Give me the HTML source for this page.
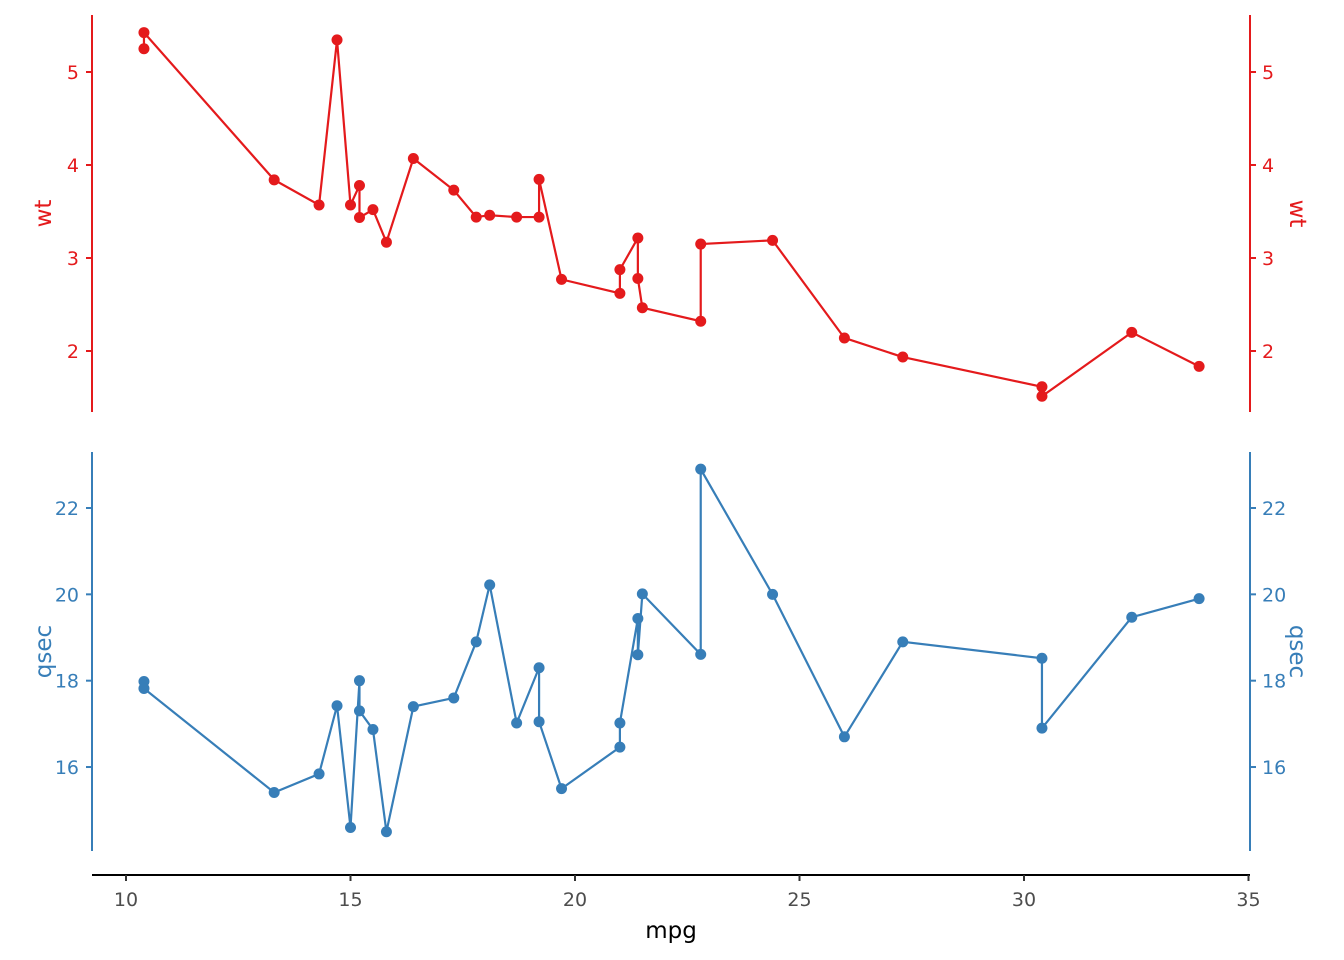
<!DOCTYPE html>
<html><head><meta charset="utf-8"><style>body{margin:0;background:#fff}svg{display:block;font-family:"DejaVu Sans","Liberation Sans",sans-serif}</style></head>
<body>
<svg id="c" width="1344" height="960"></svg>
<script>
const mpg=[21.0,21.0,22.8,21.4,18.7,18.1,14.3,24.4,22.8,19.2,17.8,16.4,17.3,15.2,10.4,10.4,14.7,32.4,30.4,33.9,21.5,15.5,15.2,13.3,19.2,27.3,26.0,30.4,15.8,19.7,15.0,21.4];
const wt=[2.620,2.875,2.320,3.215,3.440,3.460,3.570,3.190,3.150,3.440,3.440,4.070,3.730,3.780,5.250,5.424,5.345,2.200,1.615,1.835,2.465,3.520,3.435,3.840,3.845,1.935,2.140,1.513,3.170,2.770,3.570,2.780];
const qsec=[16.46,17.02,18.61,19.44,17.02,20.22,15.84,20.00,22.90,18.30,18.90,17.40,17.60,18.00,17.98,17.82,17.42,19.47,18.52,19.90,20.01,16.87,17.30,15.41,17.05,18.90,16.70,16.90,14.50,15.50,14.60,18.60];
const xTicks=[10,15,20,25,30,35];
const wtTicks=[2,3,4,5];
const qTicks=[16,18,20,22];
const NS="http://www.w3.org/2000/svg",svg=document.getElementById('c');
function el(t,a,txt){const e=document.createElementNS(NS,t);for(const k in a)e.setAttribute(k,a[k]);if(txt!==undefined)e.textContent=txt;svg.appendChild(e);return e;}
const X=v=>126+(v-10)*44.9;
const Yw=v=>72+(5-v)*93;
const Yq=v=>508+(22-v)*43.17;
const order=mpg.map((v,i)=>i).sort((a,b)=>mpg[a]-mpg[b]||a-b);
function panel(vals,Y,ticks,col,top,bot,title,nm){
  let a=el('line',{x1:92,x2:92,y1:top,y2:bot,stroke:col,'stroke-width':2});
  
  a=el('line',{x1:1250,x2:1250,y1:top,y2:bot,stroke:col,'stroke-width':2});
  
  ticks.forEach(t=>{const y=Y(t);
    el('line',{x1:86,x2:92,y1:y,y2:y,stroke:col,'stroke-width':2});
    el('line',{x1:1250,x2:1256,y1:y,y2:y,stroke:col,'stroke-width':2});
    let l=el('text',{x:79,y:y+7,'text-anchor':'end','font-size':19,fill:col},t);
    
    l=el('text',{x:1262,y:y+7,'font-size':19,fill:col},t);
    });
  const mid=(top+bot)/2;
  let t1=el('text',{x:0,y:0,transform:`translate(51,${mid}) rotate(-90)`,'text-anchor':'middle','font-size':23,fill:col},title);
  
  t1=el('text',{x:0,y:0,transform:`translate(1290,${mid}) rotate(90)`,'text-anchor':'middle','font-size':23,fill:col},title);
  
  const p=el('polyline',{points:order.map(i=>X(mpg[i])+','+Y(vals[i])).join(' '),fill:'none',stroke:col,'stroke-width':2.2});
  
  order.forEach(i=>{const c=el('circle',{cx:X(mpg[i]),cy:Y(vals[i]),r:5.5,fill:col});
    });
}
panel(wt,Yw,wtTicks,'#E41A1C',15,412,'wt','wt');
panel(qsec,Yq,qTicks,'#377EB8',452,851,'qsec','qsec');
let ax=el('line',{x1:92,x2:1250,y1:875,y2:875,stroke:'#000','stroke-width':2});

xTicks.forEach(t=>{el('line',{x1:X(t),x2:X(t),y1:875,y2:881,stroke:'#333','stroke-width':2});
  const l=el('text',{x:X(t),y:906,'text-anchor':'middle','font-size':19,fill:'#4d4d4d'},t);
  });
const xt=el('text',{x:671,y:938,'text-anchor':'middle','font-size':23,fill:'#000'},'mpg');

</script>
</body></html>
